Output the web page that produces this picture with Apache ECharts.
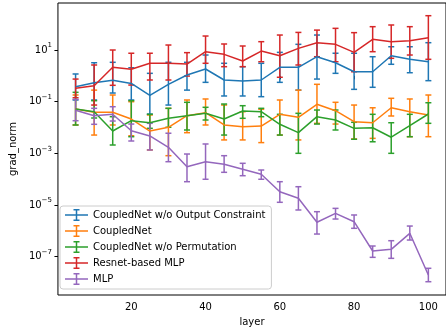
<!DOCTYPE html>
<html>
<head>
<meta charset="utf-8">
<script src="https://cdn.jsdelivr.net/npm/echarts@6/dist/echarts.min.js"></script>
<style>
  html, body { margin: 0; padding: 0; background: #fff; }
  #ec { width: 446px; height: 333px; }
</style>
</head>
<body>
<div id="ec"></div>
<script>
// x: layer index
var layers = [5, 10, 15, 20, 25, 30, 35, 40, 45, 50, 55, 60, 65, 70, 75, 80, 85, 90, 95, 100];

// CoupledNet w/o Output Constraint
var ocMean = [0.38, 0.54, 0.67, 0.51, 0.176, 0.47, 1.08, 1.84, 0.69, 0.63, 0.69, 2.14, 2.14, 5.5, 3.22, 1.44, 1.44, 6.0, 4.36, 3.52];
var ocLow  = [0.116, 0.116, 0.216, 0.116, 0.033, 0.074, 0.28, 0.56, 0.166, 0.166, 0.156, 0.56, 0.28, 0.75, 1.25, 0.30, 0.36, 2.8, 1.32, 0.65];
var ocHigh = [1.18, 3.22, 3.34, 2.06, 1.25, 3.34, 3.34, 6.4, 3.06, 2.26, 3.06, 8.1, 16.6, 38, 7.5, 7.5, 5.5, 13.4, 13.4, 19.2];

// CoupledNet
var cnMean = [0.052, 0.0387, 0.0387, 0.0213, 0.0073, 0.0102, 0.0286, 0.0374, 0.0125, 0.0107, 0.0114, 0.0324, 0.0248, 0.079, 0.0447, 0.0168, 0.0153, 0.058, 0.0408, 0.0305];
var cnLow  = [0.0125, 0.0051, 0.0125, 0.0048, 0.00135, 0.00081, 0.0063, 0.0125, 0.0033, 0.0033, 0.0026, 0.0051, 0.0033, 0.0145, 0.0136, 0.0036, 0.0038, 0.0279, 0.0044, 0.0044];
var cnHigh = [0.181, 0.28, 0.181, 0.0996, 0.0305, 0.0553, 0.116, 0.127, 0.074, 0.0408, 0.0506, 0.116, 0.28, 0.47, 0.0945, 0.074, 0.058, 0.135, 0.127, 0.181];

// CoupledNet w/o Permutation
var pmMean = [0.052, 0.0408, 0.0073, 0.0183, 0.0153, 0.0227, 0.0286, 0.0354, 0.0213, 0.0435, 0.0408, 0.0133, 0.0063, 0.0262, 0.0195, 0.0093, 0.0098, 0.0042, 0.0117, 0.0333];
var pmLow  = [0.0125, 0.0233, 0.0021, 0.0044, 0.0093, 0.0102, 0.0080, 0.0195, 0.0051, 0.0227, 0.0262, 0.0051, 0.0010, 0.0136, 0.0080, 0.0035, 0.0028, 0.0010, 0.0044, 0.0145];
var pmHigh = [0.23, 0.109, 0.0262, 0.109, 0.0324, 0.0553, 0.0945, 0.0605, 0.081, 0.0698, 0.0553, 0.0324, 0.0354, 0.0475, 0.0475, 0.0159, 0.0324, 0.0153, 0.0324, 0.091];

// Resnet-based MLP
var rnMean = [0.329, 0.415, 2.14, 1.79, 3.06, 3.06, 2.87, 8.6, 6.8, 3.75, 9.1, 6.0, 11.6, 19.2, 16.6, 8.1, 26, 21, 22.9, 30];
var rnLow  = [0.142, 0.074, 0.43, 0.44, 0.69, 0.69, 0.98, 3.06, 2.26, 2.26, 3.52, 0.88, 2.63, 5.5, 3.52, 1.44, 8.6, 4.77, 6.4, 4.36];
var rnHigh = [0.75, 2.63, 10, 7.5, 7.5, 15.6, 7.9, 34.8, 17.1, 14.3, 21, 38, 48, 59, 69, 47, 80, 93, 80, 213];

// MLP
var mlpMean = [0.0463, 0.0286, 0.0324, 0.0075, 0.0047, 0.00171, 3.03e-4, 4.74e-4, 3.76e-4, 2.41e-4, 1.54e-4, 3.27e-5, 1.82e-5, 2.14e-6, 4.76e-6, 2.25e-6, 1.65e-7, 1.92e-7, 8.0e-7, 1.95e-8];
var mlpLow  = [0.0183, 0.0133, 0.0178, 0.0030, 0.00135, 4.74e-4, 7.97e-5, 9.9e-5, 1.84e-4, 1.36e-4, 9.9e-5, 1.27e-5, 6.4e-6, 7.5e-7, 2.86e-6, 1.25e-6, 9.4e-8, 8.6e-8, 4.4e-7, 1.07e-8];
var mlpHigh = [0.123, 0.0553, 0.0638, 0.0136, 0.0145, 0.0060, 9.4e-4, 0.0023, 8.1e-4, 4.11e-4, 2.26e-4, 7.97e-5, 5.1e-5, 5.5e-6, 7.4e-6, 4.1e-6, 2.58e-7, 4.14e-7, 1.53e-6, 3.54e-8];

// tick labels
var xTicks = [20, 40, 60, 80, 100];
var yTickExps = [-7, -5, -3, -1, 1];

var names = ['CoupledNet w/o Output Constraint', 'CoupledNet', 'CoupledNet w/o Permutation', 'Resnet-based MLP', 'MLP'];
var colors = ['#1f77b4', '#ff7f0e', '#2ca02c', '#d62728', '#9467bd'];
var means = [ocMean, cnMean, pmMean, rnMean, mlpMean];
var lows = [ocLow, cnLow, pmLow, rnLow, mlpLow];
var highs = [ocHigh, cnHigh, pmHigh, rnHigh, mlpHigh];

var FONT = 'DejaVu Sans';
// errorbar legend handle (23 x 12)
var ERR_ICON = 'path://M0,5.25h23v1.5h-23z M10.75,0h1.5v12h-1.5z M8.5,0h6v1.5h-6z M8.5,10.5h6v1.5h-6z';

var ec = echarts.init(document.getElementById('ec'));

// 误差棒
function renderErr(params, api) {
  var x = api.value(0);
  var pLo = api.coord([x, api.value(1)]);
  var pHi = api.coord([x, api.value(2)]);
  var cap = 3;
  var style = { stroke: api.visual('color'), lineWidth: 1.5, fill: null };
  return {
    type: 'group',
    children: [
      { type: 'line', shape: { x1: pLo[0], y1: pLo[1], x2: pHi[0], y2: pHi[1] }, style: style },
      { type: 'line', shape: { x1: pLo[0] - cap, y1: pLo[1], x2: pLo[0] + cap, y2: pLo[1] }, style: style },
      { type: 'line', shape: { x1: pHi[0] - cap, y1: pHi[1], x2: pHi[0] + cap, y2: pHi[1] }, style: style }
    ]
  };
}

function expLabel(v) {
  var e = Math.round(v);
  return '{b|10}{s|' + (e < 0 ? '\u2212' + (-e) : e) + '}';
}

var series = [];
names.forEach(function(name, i) {
  series.push({
    name: name,
    type: 'line',
    symbol: 'none',
    silent: true,
    itemStyle: { color: colors[i] },
    lineStyle: { color: colors[i], width: 1.5 },
    data: layers.map(function(l, k) { return [l, Math.log10(means[i][k])]; })
  });
  series.push({
    name: name,
    type: 'custom',
    silent: true,
    itemStyle: { color: colors[i] },
    renderItem: renderErr,
    encode: { x: 0, y: [1, 2] },
    data: layers.map(function(l, k) {
      return [l, Math.log10(lows[i][k]), Math.log10(highs[i][k])];
    })
  });
});

var option = {
  animation: false,
  textStyle: { fontFamily: FONT },
  grid: {
    left: 55, right: -2, top: 3, bottom: 38,
    show: true, borderColor: '#000', borderWidth: 1, backgroundColor: 'transparent'
  },
  legend: {
    orient: 'vertical',
    left: 60, top: 206,
    selectedMode: false,
    itemWidth: 23, itemHeight: 12, itemGap: 4,
    padding: [3, 6, 4, 5],
    backgroundColor: 'rgba(255,255,255,0.8)',
    borderColor: '#cccccc', borderWidth: 1, borderRadius: 3,
    textStyle: { fontFamily: FONT, fontSize: 10, color: '#000', lineHeight: 12 },
    data: names.map(function(n) { return { name: n, icon: ERR_ICON }; })
  },
  xAxis: {
    type: 'value',
    min: 0.25, max: 104.75,
    name: 'layer', nameLocation: 'middle', nameGap: 22,
    nameTextStyle: { fontFamily: FONT, fontSize: 10, color: '#000' },
    axisLine: { show: false },
    splitLine: { show: false },
    axisTick: { show: true, length: 3.5, customValues: xTicks, lineStyle: { color: '#000', width: 1 } },
    axisLabel: { customValues: xTicks, margin: 7, fontFamily: FONT, fontSize: 10, color: '#000' }
  },
  yAxis: {
    type: 'value',
    // log10(grad_norm) extent
    min: -8.485, max: 2.82,
    name: 'grad_norm', nameLocation: 'middle', nameGap: 39,
    nameTextStyle: { fontFamily: FONT, fontSize: 10, color: '#000' },
    axisLine: { show: false },
    splitLine: { show: false },
    axisTick: { show: true, length: 3.5, customValues: yTickExps, lineStyle: { color: '#000', width: 1 } },
    axisLabel: {
      customValues: yTickExps, margin: 6,
      formatter: expLabel,
      rich: {
        b: { fontFamily: FONT, fontSize: 10, color: '#000', lineHeight: 16 },
        s: { fontFamily: FONT, fontSize: 7, color: '#000', verticalAlign: 'top', lineHeight: 8 }
      }
    }
  },
  series: series
};
ec.setOption(option);
</script>
</body>
</html>
